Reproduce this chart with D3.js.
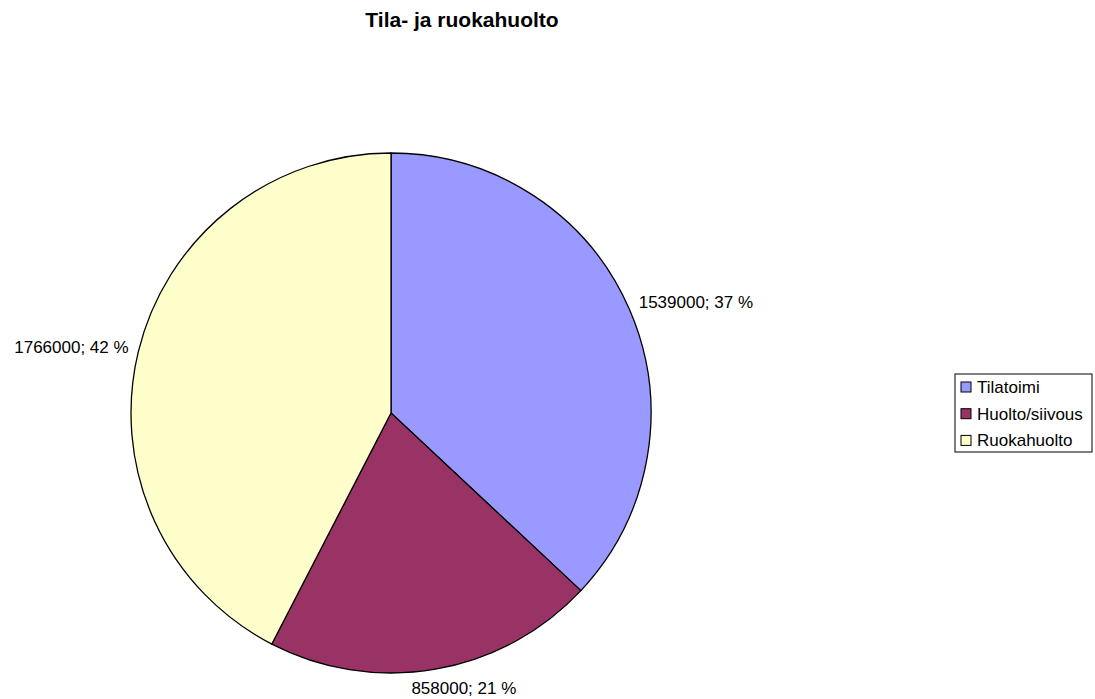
<!DOCTYPE html>
<html lang="fi">
<head>
<meta charset="utf-8">
<title>Tila- ja ruokahuolto</title>
<script src="https://d3js.org/d3.v7.min.js"></script>
<style>
  body { margin: 0; background: #fff; }
  text { font-family: "Liberation Sans", Arial, sans-serif; fill: #000; }
</style>
</head>
<body>
<svg width="1095" height="699"></svg>
<script>

var categories = ["Tilatoimi", "Huolto/siivous", "Ruokahuolto"];
var values = [1539000, 858000, 1766000];
var colors = ["#9999ff", "#993366", "#ffffcc"];

var svg = d3.select("svg"),
    cx = 391, cy = 413, radius = 260,
    labelGap = 10, fs = 17;

svg.append("text")
    .attr("x", 462)
    .attr("y", 27)
    .attr("text-anchor", "middle")
    .style("font-size", "21px")
    .style("font-weight", "bold")
    .text("Tila- ja ruokahuolto");

var data = categories.map(function(c, i) { return {name: c, value: values[i], color: colors[i]}; });
var total = d3.sum(values);

var pie = d3.pie().sort(null).value(function(d) { return d.value; });
var arc = d3.arc().innerRadius(0).outerRadius(radius);

var g = svg.append("g")
    .attr("transform", "translate(" + cx + "," + cy + ")");

var arcs = pie(data);

g.selectAll("path.slice")
  .data(arcs)
  .enter().append("path")
    .attr("class", "slice")
    .attr("d", arc)
    .attr("fill", function(d) { return d.data.color; })
    .attr("stroke", "#000")
    .attr("stroke-width", 1.3)
    .attr("stroke-linejoin", "round");

// labels outside the slices, box pushed away from the pie along the mid angle
var fmt = function(d) { return d.data.value + "; " + Math.round(d.data.value / total * 100) + " %"; };

g.selectAll("text.lbl")
  .data(arcs)
  .enter().append("text")
    .attr("class", "lbl")
    .style("font-size", fs + "px")
    .attr("text-anchor", "middle")
    .text(fmt)
    .each(function(d) {
      var a = (d.startAngle + d.endAngle) / 2,
          s = Math.sin(a), c = Math.cos(a),
          px = s * (radius + labelGap),
          py = -c * (radius + labelGap),
          w = this.getComputedTextLength(),
          h = fs,
          f = Math.max(-1, Math.min(1, s * 3)),
          bx = px + f * w / 2,
          by = py - c * h / 2;
      d3.select(this)
        .attr("x", bx)
        .attr("y", by + fs * 0.36);
    });

// legend
var legend = svg.append("g")
    .attr("transform", "translate(955,374)");

legend.append("rect")
    .attr("width", 137)
    .attr("height", 78)
    .attr("fill", "#fff")
    .attr("stroke", "#000")
    .attr("stroke-width", 1);

var item = legend.selectAll("g.item")
  .data(data)
  .enter().append("g")
    .attr("class", "item")
    .attr("transform", function(d, i) { return "translate(6," + (8 + i * 26.7) + ")"; });

item.append("rect")
    .attr("width", 10)
    .attr("height", 10)
    .attr("fill", function(d) { return d.color; })
    .attr("stroke", "#000")
    .attr("stroke-width", 1);

item.append("text")
    .attr("x", 16)
    .attr("y", 11)
    .style("font-size", fs + "px")
    .text(function(d) { return d.name; });

</script>
</body>
</html>
